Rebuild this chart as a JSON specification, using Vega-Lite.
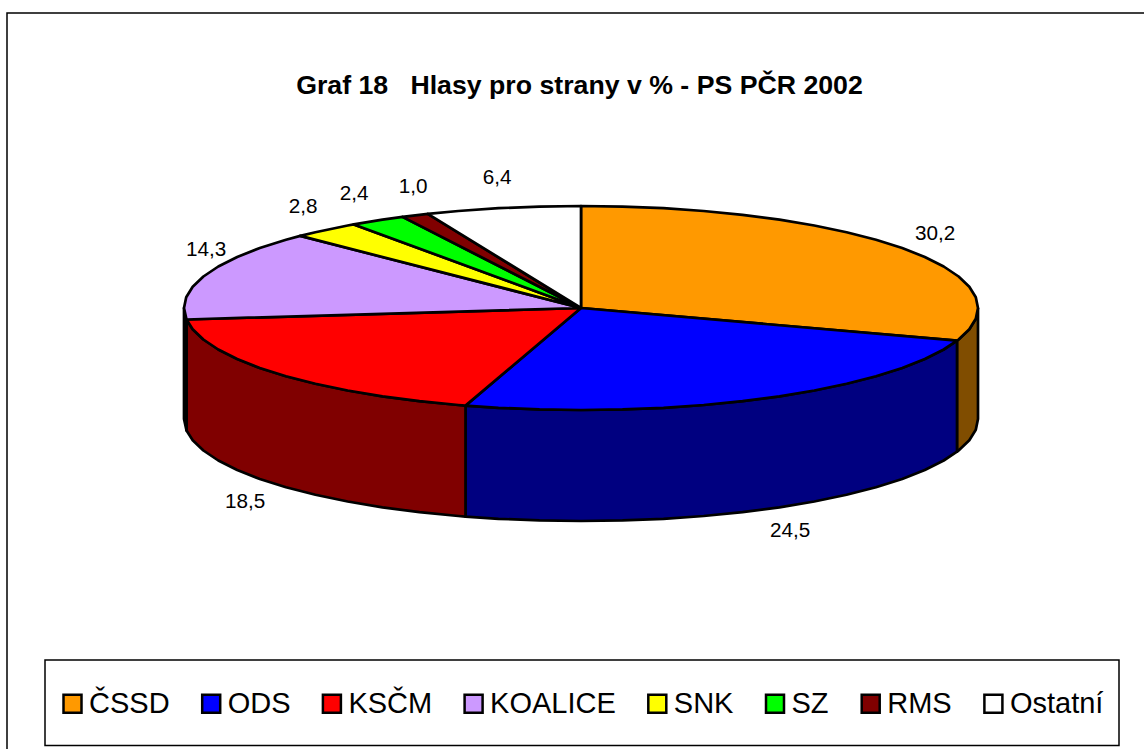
{"$schema":"https://vega.github.io/schema/vega-lite/v6.json","width":1144,"height":749,"padding":0,"autosize":"none","background":"white",
"title":{"text":"Graf 18\u00a0\u00a0\u00a0Hlasy pro strany v % - PS PČR 2002","font":"Liberation Sans","fontWeight":"bold","fontSize":26.7,"color":"black","anchor":"middle","offset":-100,"dx":7.5,"dy":0},
"config":{"view":{"stroke":null}},
"resolve":{"scale":{"fill":"independent"}},
"layer":[
{"data":{"values":[{"i":1,"x":-574,"y":-441},{"i":2,"x":-574,"y":295},{"i":3,"x":563,"y":295}]},
"mark":{"type":"line","stroke":"black","strokeWidth":1.5},
"encoding":{"x":{"field":"x","type":"quantitative","axis":null,"scale":{"domain":[-581,563],"nice":false,"zero":false}},"y":{"field":"y","type":"quantitative","axis":null,"scale":{"domain":[-441,308],"nice":false,"zero":false}},"order":{"field":"i"}}},
{"data":{"values":[{"x":-536,"x2":538,"y":-352,"y2":-437.5}]},
"mark":{"type":"rect","filled":false,"stroke":"black","strokeWidth":1.5},
"encoding":{"x":{"field":"x","type":"quantitative","axis":null,"scale":{"domain":[-581,563],"nice":false,"zero":false}},"x2":{"field":"x2"},"y":{"field":"y","type":"quantitative","axis":null,"scale":{"domain":[-441,308],"nice":false,"zero":false}},"y2":{"field":"y2"}}},
{"data":{"values":[
{"s":"ČSSD","i":1,"x":397,"y":0},{"s":"ČSSD","i":2,"x":394.8,"y":-10.7},{"s":"ČSSD","i":3,"x":388.3,"y":-21.2},{"s":"ČSSD","i":4,"x":377.6,"y":-31.5},{"s":"ČSSD","i":5,"x":376,"y":-32.7},{"s":"ČSSD","i":6,"x":376,"y":-143.7},{"s":"ČSSD","i":7,"x":377.6,"y":-142.5},{"s":"ČSSD","i":8,"x":388.3,"y":-132.2},{"s":"ČSSD","i":9,"x":394.8,"y":-121.7},{"s":"ČSSD","i":10,"x":397,"y":-111},{"s":"ČSSD","i":11,"x":397,"y":0},
{"s":"ODS","i":1,"x":376,"y":-32.7},{"s":"ODS","i":2,"x":362.7,"y":-41.5},{"s":"ODS","i":3,"x":343.8,"y":-51},{"s":"ODS","i":4,"x":321.2,"y":-60},{"s":"ODS","i":5,"x":295,"y":-68.2},{"s":"ODS","i":6,"x":265.6,"y":-75.8},{"s":"ODS","i":7,"x":233.3,"y":-82.5},{"s":"ODS","i":8,"x":198.5,"y":-88.3},{"s":"ODS","i":9,"x":161.5,"y":-93.2},{"s":"ODS","i":10,"x":122.7,"y":-97},{"s":"ODS","i":11,"x":82.5,"y":-99.8},{"s":"ODS","i":12,"x":41.5,"y":-101.4},{"s":"ODS","i":13,"x":0,"y":-102},{"s":"ODS","i":14,"x":-41.5,"y":-101.4},{"s":"ODS","i":15,"x":-82.5,"y":-99.8},{"s":"ODS","i":16,"x":-115.5,"y":-97.6},{"s":"ODS","i":17,"x":-115.5,"y":-208.6},{"s":"ODS","i":18,"x":-82.5,"y":-210.8},{"s":"ODS","i":19,"x":-41.5,"y":-212.4},{"s":"ODS","i":20,"x":0,"y":-213},{"s":"ODS","i":21,"x":41.5,"y":-212.4},{"s":"ODS","i":22,"x":82.5,"y":-210.8},{"s":"ODS","i":23,"x":122.7,"y":-208},{"s":"ODS","i":24,"x":161.5,"y":-204.2},{"s":"ODS","i":25,"x":198.5,"y":-199.3},{"s":"ODS","i":26,"x":233.3,"y":-193.5},{"s":"ODS","i":27,"x":265.6,"y":-186.8},{"s":"ODS","i":28,"x":295,"y":-179.2},{"s":"ODS","i":29,"x":321.2,"y":-171},{"s":"ODS","i":30,"x":343.8,"y":-162},{"s":"ODS","i":31,"x":362.7,"y":-152.5},{"s":"ODS","i":32,"x":376,"y":-143.7},{"s":"ODS","i":33,"x":376,"y":-32.7},
{"s":"KSČM","i":1,"x":-115.5,"y":-97.6},{"s":"KSČM","i":2,"x":-122.7,"y":-97},{"s":"KSČM","i":3,"x":-161.5,"y":-93.2},{"s":"KSČM","i":4,"x":-198.5,"y":-88.3},{"s":"KSČM","i":5,"x":-233.3,"y":-82.5},{"s":"KSČM","i":6,"x":-265.6,"y":-75.8},{"s":"KSČM","i":7,"x":-295,"y":-68.2},{"s":"KSČM","i":8,"x":-321.2,"y":-60},{"s":"KSČM","i":9,"x":-343.8,"y":-51},{"s":"KSČM","i":10,"x":-362.7,"y":-41.5},{"s":"KSČM","i":11,"x":-377.6,"y":-31.5},{"s":"KSČM","i":12,"x":-388.3,"y":-21.2},{"s":"KSČM","i":13,"x":-394.5,"y":-11.5},{"s":"KSČM","i":14,"x":-394.5,"y":-122.5},{"s":"KSČM","i":15,"x":-388.3,"y":-132.2},{"s":"KSČM","i":16,"x":-377.6,"y":-142.5},{"s":"KSČM","i":17,"x":-362.7,"y":-152.5},{"s":"KSČM","i":18,"x":-343.8,"y":-162},{"s":"KSČM","i":19,"x":-321.2,"y":-171},{"s":"KSČM","i":20,"x":-295,"y":-179.2},{"s":"KSČM","i":21,"x":-265.6,"y":-186.8},{"s":"KSČM","i":22,"x":-233.3,"y":-193.5},{"s":"KSČM","i":23,"x":-198.5,"y":-199.3},{"s":"KSČM","i":24,"x":-161.5,"y":-204.2},{"s":"KSČM","i":25,"x":-122.7,"y":-208},{"s":"KSČM","i":26,"x":-115.5,"y":-208.6},{"s":"KSČM","i":27,"x":-115.5,"y":-97.6},
{"s":"KOALICE","i":1,"x":-394.5,"y":-11.5},{"s":"KOALICE","i":2,"x":-397,"y":0},{"s":"KOALICE","i":3,"x":-397,"y":-111},{"s":"KOALICE","i":4,"x":-394.5,"y":-122.5},{"s":"KOALICE","i":5,"x":-394.5,"y":-11.5}
]},
"mark":{"type":"line","stroke":"black","strokeWidth":2.7,"strokeJoin":"round"},
"encoding":{"x":{"field":"x","type":"quantitative","axis":null,"scale":{"domain":[-581,563],"nice":false,"zero":false}},"y":{"field":"y","type":"quantitative","axis":null,"scale":{"domain":[-441,308],"nice":false,"zero":false}},"order":{"field":"i"},
"fill":{"field":"s","type":"nominal","legend":null,"scale":{"domain":["ČSSD","ODS","KSČM","KOALICE"],"range":["#804D00","#000080","#800000","#664D80"]}}}},
{"data":{"values":[
{"s":"ČSSD","i":1,"x":0,"y":0},{"s":"ČSSD","i":2,"x":0,"y":102},{"s":"ČSSD","i":3,"x":41.5,"y":101.4},{"s":"ČSSD","i":4,"x":82.5,"y":99.8},{"s":"ČSSD","i":5,"x":122.7,"y":97},{"s":"ČSSD","i":6,"x":161.5,"y":93.2},{"s":"ČSSD","i":7,"x":198.5,"y":88.3},{"s":"ČSSD","i":8,"x":233.3,"y":82.5},{"s":"ČSSD","i":9,"x":265.6,"y":75.8},{"s":"ČSSD","i":10,"x":295,"y":68.2},{"s":"ČSSD","i":11,"x":321.2,"y":60},{"s":"ČSSD","i":12,"x":343.8,"y":51},{"s":"ČSSD","i":13,"x":362.7,"y":41.5},{"s":"ČSSD","i":14,"x":377.6,"y":31.5},{"s":"ČSSD","i":15,"x":388.3,"y":21.2},{"s":"ČSSD","i":16,"x":394.8,"y":10.7},{"s":"ČSSD","i":17,"x":397,"y":0},{"s":"ČSSD","i":18,"x":394.8,"y":-10.7},{"s":"ČSSD","i":19,"x":388.3,"y":-21.2},{"s":"ČSSD","i":20,"x":377.6,"y":-31.5},{"s":"ČSSD","i":21,"x":376,"y":-32.7},{"s":"ČSSD","i":22,"x":0,"y":0},
{"s":"ODS","i":1,"x":0,"y":0},{"s":"ODS","i":2,"x":376,"y":-32.7},{"s":"ODS","i":3,"x":362.7,"y":-41.5},{"s":"ODS","i":4,"x":343.8,"y":-51},{"s":"ODS","i":5,"x":321.2,"y":-60},{"s":"ODS","i":6,"x":295,"y":-68.2},{"s":"ODS","i":7,"x":265.6,"y":-75.8},{"s":"ODS","i":8,"x":233.3,"y":-82.5},{"s":"ODS","i":9,"x":198.5,"y":-88.3},{"s":"ODS","i":10,"x":161.5,"y":-93.2},{"s":"ODS","i":11,"x":122.7,"y":-97},{"s":"ODS","i":12,"x":82.5,"y":-99.8},{"s":"ODS","i":13,"x":41.5,"y":-101.4},{"s":"ODS","i":14,"x":0,"y":-102},{"s":"ODS","i":15,"x":-41.5,"y":-101.4},{"s":"ODS","i":16,"x":-82.5,"y":-99.8},{"s":"ODS","i":17,"x":-115.5,"y":-97.6},{"s":"ODS","i":18,"x":0,"y":0},
{"s":"KSČM","i":1,"x":0,"y":0},{"s":"KSČM","i":2,"x":-115.5,"y":-97.6},{"s":"KSČM","i":3,"x":-122.7,"y":-97},{"s":"KSČM","i":4,"x":-161.5,"y":-93.2},{"s":"KSČM","i":5,"x":-198.5,"y":-88.3},{"s":"KSČM","i":6,"x":-233.3,"y":-82.5},{"s":"KSČM","i":7,"x":-265.6,"y":-75.8},{"s":"KSČM","i":8,"x":-295,"y":-68.2},{"s":"KSČM","i":9,"x":-321.2,"y":-60},{"s":"KSČM","i":10,"x":-343.8,"y":-51},{"s":"KSČM","i":11,"x":-362.7,"y":-41.5},{"s":"KSČM","i":12,"x":-377.6,"y":-31.5},{"s":"KSČM","i":13,"x":-388.3,"y":-21.2},{"s":"KSČM","i":14,"x":-394.5,"y":-11.5},{"s":"KSČM","i":15,"x":0,"y":0},
{"s":"KOALICE","i":1,"x":0,"y":0},{"s":"KOALICE","i":2,"x":-394.5,"y":-11.5},{"s":"KOALICE","i":3,"x":-397,"y":0},{"s":"KOALICE","i":4,"x":-394.8,"y":10.7},{"s":"KOALICE","i":5,"x":-388.3,"y":21.2},{"s":"KOALICE","i":6,"x":-377.6,"y":31.5},{"s":"KOALICE","i":7,"x":-362.7,"y":41.5},{"s":"KOALICE","i":8,"x":-343.8,"y":51},{"s":"KOALICE","i":9,"x":-321.2,"y":60},{"s":"KOALICE","i":10,"x":-295,"y":68.2},{"s":"KOALICE","i":11,"x":-280.7,"y":72.1},{"s":"KOALICE","i":12,"x":0,"y":0},
{"s":"SNK","i":1,"x":0,"y":0},{"s":"SNK","i":2,"x":-280.7,"y":72.1},{"s":"SNK","i":3,"x":-265.6,"y":75.8},{"s":"SNK","i":4,"x":-233.3,"y":82.5},{"s":"SNK","i":5,"x":-227.2,"y":83.6},{"s":"SNK","i":6,"x":0,"y":0},
{"s":"SZ","i":1,"x":0,"y":0},{"s":"SZ","i":2,"x":-227.2,"y":83.6},{"s":"SZ","i":3,"x":-198.5,"y":88.3},{"s":"SZ","i":4,"x":-178.5,"y":91.1},{"s":"SZ","i":5,"x":0,"y":0},
{"s":"RMS","i":1,"x":0,"y":0},{"s":"RMS","i":2,"x":-178.5,"y":91.1},{"s":"RMS","i":3,"x":-161.5,"y":93.2},{"s":"RMS","i":4,"x":-153.2,"y":94.1},{"s":"RMS","i":5,"x":0,"y":0},
{"s":"Ostatní","i":1,"x":0,"y":0},{"s":"Ostatní","i":2,"x":-153.2,"y":94.1},{"s":"Ostatní","i":3,"x":-122.7,"y":97},{"s":"Ostatní","i":4,"x":-82.5,"y":99.8},{"s":"Ostatní","i":5,"x":-41.5,"y":101.4},{"s":"Ostatní","i":6,"x":0,"y":102},{"s":"Ostatní","i":7,"x":0,"y":0}
]},
"mark":{"type":"line","stroke":"black","strokeWidth":2.7,"strokeJoin":"round"},
"encoding":{"x":{"field":"x","type":"quantitative","axis":null,"scale":{"domain":[-581,563],"nice":false,"zero":false}},"y":{"field":"y","type":"quantitative","axis":null,"scale":{"domain":[-441,308],"nice":false,"zero":false}},"order":{"field":"i"},
"fill":{"field":"s","type":"nominal","sort":null,"scale":{"domain":["ČSSD","ODS","KSČM","KOALICE","SNK","SZ","RMS","Ostatní"],"range":["#FF9900","#0000FF","#FF0000","#CC99FF","#FFFF00","#00FF00","#800000","#FFFFFF"]},
"legend":{"title":null,"orient":"none","legendX":58,"legendY":689,"direction":"horizontal","columns":8,"columnPadding":26.7,"symbolType":"square","symbolSize":324,"symbolStrokeColor":"black","symbolStrokeWidth":2.5,"symbolOpacity":1,"labelFont":"Liberation Sans","labelFontSize":29,"labelColor":"black","labelOffset":2,"labelLimit":300}}}},
{"data":{"values":[
{"s":"ČSSD","popisek":"30,2","x":354,"y":74.5},{"s":"ODS","popisek":"24,5","x":209,"y":-222.5},{"s":"KSČM","popisek":"18,5","x":-336,"y":-193.5},{"s":"KOALICE","popisek":"14,3","x":-375,"y":58.5},{"s":"SNK","popisek":"2,8","x":-278,"y":101.5},{"s":"SZ","popisek":"2,4","x":-227,"y":114.5},{"s":"RMS","popisek":"1,0","x":-168,"y":121.5},{"s":"Ostatní","popisek":"6,4","x":-84,"y":130}
]},
"mark":{"type":"text","font":"Liberation Sans","fontSize":20.7,"color":"black","align":"center","baseline":"middle"},
"encoding":{"x":{"field":"x","type":"quantitative","axis":null,"scale":{"domain":[-581,563],"nice":false,"zero":false}},"y":{"field":"y","type":"quantitative","axis":null,"scale":{"domain":[-441,308],"nice":false,"zero":false}},"text":{"field":"popisek","type":"nominal"}}}
]}
